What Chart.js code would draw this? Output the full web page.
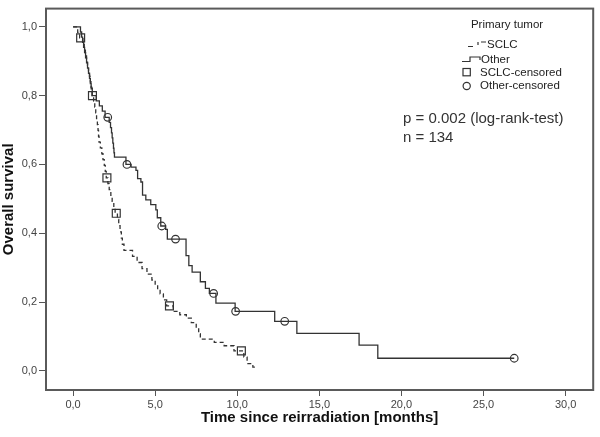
<!DOCTYPE html>
<html><head><meta charset="utf-8">
<script src="https://cdn.jsdelivr.net/npm/chart.js@4.4.0/dist/chart.umd.min.js"></script>
<style>html,body{margin:0;padding:0;background:#fff}canvas{display:block}</style>
</head><body>
<canvas id="c" width="600" height="437"></canvas>
<script>
const xTicks=[0,5,10,15,20,25,30];
const xTickLabels=['0,0','5,0','10,0','15,0','20,0','25,0','30,0'];
const yTicks=[0,0.2,0.4,0.6,0.8,1.0];
const yTickLabels=['0,0','0,2','0,4','0,6','0,8','1,0'];
const xTitle='Time since reirradiation [months]';
const yTitle='Overall survival';
const legendTitle='Primary tumor';
const legendLabels=['SCLC','Other','SCLC-censored','Other-censored'];
const pText='p = 0.002 (log-rank-test)';
const nText='n = 134';

// Kaplan-Meier steps: time (months) where survival drops to the given value
const otherTime=[0,0.45,0.52,0.58,0.64,0.70,0.76,0.82,0.88,0.94,1.00,1.05,1.10,1.17,1.41,1.60,1.78,1.95,2.20,2.28,2.34,2.38,2.42,2.46,2.49,2.52,3.22,3.53,3.83,3.93,4.13,4.23,4.43,4.73,5.04,5.13,5.34,5.64,5.74,6.88,7.05,7.25,7.75,8.06,8.30,8.70,9.87,12.28,13.63,17.42,18.56,26.87];
const otherSurv=[1.0,0.985,0.97,0.955,0.94,0.925,0.91,0.895,0.88,0.865,0.85,0.835,0.82,0.80,0.785,0.77,0.755,0.737,0.722,0.707,0.692,0.677,0.662,0.647,0.634,0.621,0.60,0.592,0.583,0.559,0.549,0.511,0.497,0.483,0.468,0.445,0.421,0.411,0.383,0.335,0.306,0.287,0.259,0.240,0.225,0.197,0.173,0.144,0.109,0.075,0.0366,0.0366];
const sclcTime=[0,0.28,0.40,0.60,0.68,0.75,0.82,0.88,0.94,1.00,1.05,1.10,1.15,1.25,1.32,1.38,1.43,1.48,1.52,1.55,1.58,1.66,1.75,1.82,1.90,1.96,2.02,2.12,2.20,2.30,2.38,2.48,2.56,2.70,2.78,2.86,2.94,3.00,3.10,3.62,3.90,4.20,4.50,4.80,5.00,5.15,5.30,5.50,5.70,6.10,6.50,6.90,7.20,7.50,7.65,7.75,8.60,9.20,9.80,10.40,10.60,10.95,11.10];
const sclcSurv=[1.0,0.984,0.968,0.952,0.936,0.92,0.904,0.888,0.872,0.856,0.84,0.824,0.80,0.784,0.767,0.75,0.733,0.716,0.699,0.682,0.665,0.648,0.631,0.614,0.597,0.58,0.561,0.544,0.527,0.51,0.493,0.475,0.458,0.44,0.422,0.404,0.386,0.368,0.35,0.333,0.315,0.297,0.281,0.264,0.25,0.237,0.224,0.206,0.189,0.173,0.163,0.153,0.14,0.125,0.108,0.092,0.083,0.073,0.058,0.04,0.021,0.011,0.011];
const sclcCensTime=[0.46,1.18,2.06,2.63,5.87,10.25];
const sclcCensSurv=[0.968,0.80,0.561,0.458,0.189,0.058];
const otherCensTime=[2.11,3.28,5.40,6.24,8.56,9.90,12.89,26.87];
const otherCensSurv=[0.737,0.60,0.421,0.383,0.225,0.173,0.144,0.0366];

const pts=(t,s)=>t.map((v,i)=>({x:v,y:s[i]}));
const FONT='"Liberation Sans", Arial, sans-serif';
const LINE='#333';

const decor={
  id:'decor',
  afterDraw(chart){
    const {ctx,chartArea:a}=chart;
    ctx.save();
    ctx.strokeStyle='#5a5a5a';ctx.lineWidth=2;
    ctx.strokeRect(a.left,a.top,a.right-a.left,a.bottom-a.top);
    // legend
    ctx.fillStyle='#222';
    ctx.font='11.5px '+FONT;
    ctx.textBaseline='middle';
    ctx.textAlign='center';
    ctx.fillText(legendTitle,507,25);
    ctx.textAlign='left';
    ctx.strokeStyle=LINE;ctx.lineWidth=1.2;
    // SCLC symbol
    ctx.beginPath();
    ctx.moveTo(468,46.5);ctx.lineTo(473,46.5);
    ctx.moveTo(478,42);ctx.lineTo(478,45);
    ctx.moveTo(481,42);ctx.lineTo(486,42);
    ctx.stroke();
    ctx.fillText(legendLabels[0],487,45);
    // Other symbol
    ctx.beginPath();
    ctx.moveTo(462,61.5);ctx.lineTo(470,61.5);ctx.lineTo(470,57);ctx.lineTo(480,57);ctx.lineTo(480,60);
    ctx.stroke();
    ctx.fillText(legendLabels[1],481,60);
    // square
    ctx.strokeRect(463,68.5,7.3,7.3);
    ctx.fillText(legendLabels[2],480,72.5);
    ctx.beginPath();ctx.arc(466.7,86,3.6,0,Math.PI*2);ctx.stroke();
    ctx.fillText(legendLabels[3],480,86);
    // annotation
    ctx.fillStyle='#333';
    ctx.font='15px '+FONT;
    ctx.fillText(pText,403,119);
    ctx.fillText(nText,403,138);
    ctx.restore();
  }
};

new Chart(document.getElementById('c'),{
  type:'line',
  data:{datasets:[
    {label:'SCLC',data:pts(sclcTime,sclcSurv),stepped:'before',borderColor:LINE,borderWidth:1.3,borderDash:[4,3],pointRadius:0,fill:false},
    {label:'Other',data:pts(otherTime,otherSurv),stepped:'before',borderColor:LINE,borderWidth:1.3,pointRadius:0,fill:false},
    {label:'SCLC-censored',data:pts(sclcCensTime,sclcCensSurv),showLine:false,pointStyle:'rect',pointRadius:5.6,borderColor:LINE,borderWidth:1.2,backgroundColor:'rgba(0,0,0,0)'},
    {label:'Other-censored',data:pts(otherCensTime,otherCensSurv),showLine:false,pointStyle:'circle',pointRadius:3.8,borderColor:LINE,borderWidth:1.2,backgroundColor:'rgba(0,0,0,0)'}
  ]},
  options:{
    responsive:false,animation:false,events:[],
    layout:{padding:{top:2,right:2,left:0,bottom:0}},
    plugins:{legend:{display:false},tooltip:{enabled:false}},
    scales:{
      x:{type:'linear',min:-1.65,max:31.68,
        afterBuildTicks:s=>{s.ticks=xTicks.map(v=>({value:v}));},
        afterFit:s=>{s.height=47;},
        ticks:{callback:(v,i)=>xTickLabels[i],font:{family:FONT,size:11},color:'#444',padding:2,maxRotation:0,autoSkip:false},
        grid:{drawOnChartArea:false,drawTicks:true,tickLength:6,color:'#555',lineWidth:1},
        border:{display:false},
        title:{display:true,text:xTitle,font:{family:FONT,size:15,weight:'bold'},color:'#111',padding:{top:0,bottom:10}}
      },
      y:{type:'linear',min:-0.0557,max:1.053,
        afterBuildTicks:s=>{s.ticks=yTicks.map(v=>({value:v}));},
        afterFit:s=>{s.width=46;},
        ticks:{callback:(v,i)=>yTickLabels[i],font:{family:FONT,size:11},color:'#444',padding:2,autoSkip:false},
        grid:{drawOnChartArea:false,drawTicks:true,tickLength:7,color:'#555',lineWidth:1},
        border:{display:false},
        title:{display:true,text:yTitle,font:{family:FONT,size:15,weight:'bold'},color:'#111',padding:{top:0,bottom:0}}
      }
    }
  },
  plugins:[decor]
});
</script>
</body></html>
